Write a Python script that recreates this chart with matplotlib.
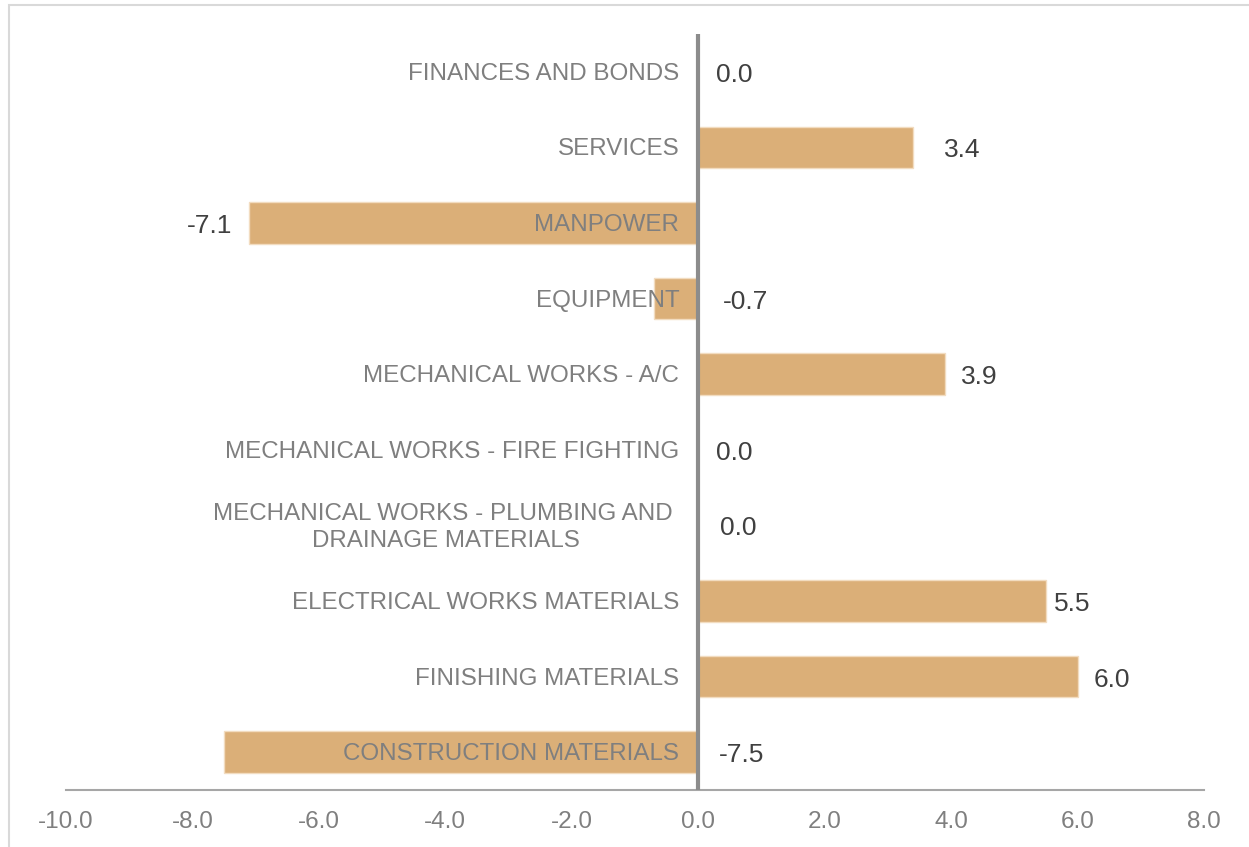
import matplotlib
matplotlib.use("Agg")
import matplotlib.pyplot as plt
from matplotlib.patches import Rectangle
from matplotlib.transforms import offset_copy

plt.rcParams["font.family"] = ["Liberation Sans", "DejaVu Sans"]

# data, top to bottom as in the chart
categories = [
    "FINANCES AND BONDS",
    "SERVICES",
    "MANPOWER",
    "EQUIPMENT",
    "MECHANICAL WORKS - A/C",
    "MECHANICAL WORKS - FIRE FIGHTING",
    "MECHANICAL WORKS - PLUMBING AND \nDRAINAGE MATERIALS",
    "ELECTRICAL WORKS MATERIALS",
    "FINISHING MATERIALS",
    "CONSTRUCTION MATERIALS",
]
values = [0.0, 3.4, -7.1, -0.7, 3.9, 0.0, 0.0, 5.5, 6.0, -7.5]
x_ticks = [-10, -8, -6, -4, -2, 0, 2, 4, 6, 8]

# where each value label sits: at the bar end or just right of zero
label_at_end = [False, True, True, False, True, False, False, True, True, False]
label_gap_px = [18, 31, 17, 25, 16, 18, 22, 8, 16, 21]

bar_color = "#DBAF78"
grey_text = "#7F7F7F"
dark_text = "#404040"

fig = plt.figure(figsize=(12.49, 8.47), dpi=100)
ax = fig.add_axes([0.0528, 0.0673, 0.9112, 0.8926])

ypos = list(range(len(categories)))[::-1]
ax.barh(ypos, values, height=0.55, color=bar_color, edgecolor="#F2DCC0",
        linewidth=1.0, zorder=2)

ax.set_xlim(-10, 8)
ax.set_ylim(-0.5, len(categories) - 0.5)
ax.set_xticks(x_ticks)
ax.set_xticklabels([f"{t:.1f}" for t in x_ticks], color=grey_text, fontsize=17.5)
ax.tick_params(axis="x", length=0, pad=15)
ax.set_yticks([])

for s in ["top", "right", "left"]:
    ax.spines[s].set_visible(False)
ax.spines["bottom"].set_color("#A6A6A6")
ax.spines["bottom"].set_linewidth(1.5)

# zero line
ax.axvline(0, color="#8C8C8C", linewidth=3, zorder=3)

# category labels, right-aligned just left of the zero line
cat_tr = offset_copy(ax.transData, fig=fig, x=-19, y=-2, units="dots")
for y, name in zip(ypos, categories):
    ax.text(0, y, name, transform=cat_tr, ha="right", va="center",
            multialignment="center", linespacing=1.28,
            fontsize=17.4, color=grey_text, zorder=4)

# value labels
for y, v, at_end, gap in zip(ypos, values, label_at_end, label_gap_px):
    if at_end and v < 0:
        tr = offset_copy(ax.transData, fig=fig, x=-gap, y=-3, units="dots")
        ax.text(v, y, f"{v:.1f}", transform=tr, ha="right", va="center",
                fontsize=19, color=dark_text)
    else:
        x0 = v if at_end else 0
        tr = offset_copy(ax.transData, fig=fig, x=gap, y=-3, units="dots")
        ax.text(x0, y, f"{v:.1f}", transform=tr, ha="left", va="center",
                fontsize=19, color=dark_text)

# light frame around the chart
fig.patches.append(Rectangle((9 / 1249, -0.01), 1.02, 1 - 5 / 847 + 0.01,
                             transform=fig.transFigure, fill=False,
                             edgecolor="#D9D9D9", linewidth=1.5))

fig.savefig("out.png", dpi=100, facecolor="white")
